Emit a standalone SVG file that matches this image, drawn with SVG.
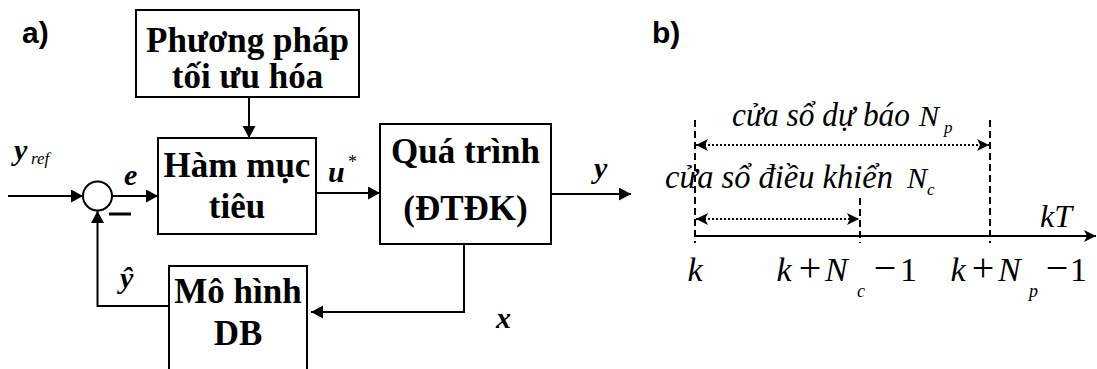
<svg xmlns="http://www.w3.org/2000/svg" width="1097" height="369" viewBox="0 0 1097 369">
<style>
.box{fill:#fff;stroke:#000;stroke-width:2}
.bt{font-weight:bold;font-size:35px;text-anchor:middle;fill:#000}
.lbl{font-family:"Liberation Sans",Arial,sans-serif;font-weight:bold;font-size:30px;fill:#000}
.m{font-style:italic;font-weight:bold;font-size:30px;fill:#000}
.mi{font-style:italic;fill:#000}
.mr{fill:#000}
.c{text-anchor:middle}
.ln{fill:none;stroke:#000;stroke-width:2}
.dash{fill:none;stroke:#000;stroke-width:2;stroke-dasharray:7 4}
.dot{fill:none;stroke:#000;stroke-width:2;stroke-dasharray:2 2}
</style>
<defs>
<marker id="arr" markerUnits="userSpaceOnUse" markerWidth="14" markerHeight="14" refX="12" refY="6.5" orient="auto"><path d="M0,0 L12,6.5 L0,13 z" fill="#000"/></marker>
<marker id="barb" markerUnits="userSpaceOnUse" markerWidth="14" markerHeight="14" refX="12" refY="6" orient="auto-start-reverse"><path d="M0,0 L12,6 L0,12 L3,6 z" fill="#000"/></marker>
</defs>
<rect width="1097" height="369" fill="#fff"/>
<text class="lbl" x="22" y="43">a)</text>
<text class="lbl" x="652" y="43">b)</text>
<g font-family="Liberation Serif, DejaVu Serif, serif">
<g id="phuong-phap"><rect class="box" x="136" y="10" width="223" height="87"/><text class="bt" x="247.5" y="52" font-size="33">Phương pháp</text><text class="bt" x="247.5" y="88" font-size="33">tối ưu hóa</text></g>
<g id="ham-muc-tieu"><rect class="box" x="158" y="138" width="158" height="96"/><text class="bt" x="237" y="177">Hàm mục</text><text class="bt" x="237" y="218">tiêu</text></g>
<g id="qua-trinh"><rect class="box" x="380" y="124" width="171" height="120"/><text class="bt" x="465.5" y="163">Quá trình</text><text class="bt" x="465.5" y="220">(ĐTĐK)</text></g>
<g id="mo-hinh"><rect class="box" x="169" y="266" width="138" height="120"/><text class="bt" x="238" y="303">Mô hình</text><text class="bt" x="238" y="345">DB</text></g>
<g id="sum"><circle cx="97.5" cy="196" r="14.5" fill="#fff" stroke="#000" stroke-width="2"/><line x1="109" y1="214" x2="131" y2="214" stroke="#000" stroke-width="3"/></g>
<g id="connectors">
<line class="ln" x1="249" y1="97" x2="249" y2="138" marker-end="url(#arr)"/>
<line class="ln" x1="8" y1="196" x2="83" y2="196" marker-end="url(#arr)"/>
<line class="ln" x1="112" y1="196" x2="158" y2="196" marker-end="url(#arr)"/>
<line class="ln" x1="316" y1="193" x2="380" y2="193" marker-end="url(#arr)"/>
<line class="ln" x1="551" y1="194" x2="631" y2="194" marker-end="url(#arr)"/>
<polyline class="ln" points="464,244 464,312 311,312" marker-end="url(#arr)"/>
<polyline class="ln" points="169,306 97.5,306 97.5,211" marker-end="url(#arr)"/>
<line class="dash" x1="695" y1="120" x2="695" y2="243"/>
<line class="dash" x1="860" y1="198" x2="860" y2="243"/>
<line class="dash" x1="990" y1="120" x2="990" y2="243"/>
<line class="dot" x1="696" y1="145" x2="989" y2="145" marker-start="url(#barb)" marker-end="url(#barb)"/>
<line class="dot" x1="696" y1="219" x2="859" y2="219" marker-start="url(#barb)" marker-end="url(#barb)"/>
<line class="ln" x1="695" y1="236" x2="1096" y2="236" marker-end="url(#barb)"/>
</g>
<text class="m" x="14" y="160">y</text><text class="mi" x="31" y="164" font-size="17">ref</text>
<text class="m" x="124" y="185">e</text>
<text class="m" x="328" y="182">u</text><text class="mr" x="348" y="168" font-size="18">*</text>
<text class="m" x="594" y="178">y</text>
<text class="m" x="496" y="328">x</text>
<text class="m" x="120" y="288">ŷ</text>
<text class="mi" x="732" y="126" font-size="33" textLength="178" lengthAdjust="spacingAndGlyphs">cửa sổ dự báo</text><text class="mi" x="919" y="126" font-size="30">N</text><text class="mi" x="944" y="133" font-size="17">p</text>
<text class="mi" x="665" y="188" font-size="33" textLength="228" lengthAdjust="spacingAndGlyphs">cửa sổ điều khiển</text><text class="mi" x="907" y="188" font-size="30">N</text><text class="mi" x="927" y="195" font-size="17">c</text>
<text class="mi" x="1040" y="227" font-size="32">kT</text>
<text class="mi c" x="695" y="281" font-size="34">k</text>
<text class="mi c" x="784" y="281" font-size="34">k</text><text class="mr c" x="810" y="281" font-size="40">+</text><text class="mi" x="825" y="281" font-size="34">N</text><text class="mi" x="857" y="297" font-size="18">c</text><text class="mr c" x="885" y="281" font-size="40">−</text><text class="mr c" x="908.5" y="281" font-size="34">1</text>
<text class="mi c" x="958" y="281" font-size="34">k</text><text class="mr c" x="983" y="281" font-size="40">+</text><text class="mi" x="998" y="281" font-size="34">N</text><text class="mi" x="1029" y="297" font-size="18">p</text><text class="mr c" x="1057" y="281" font-size="40">−</text><text class="mr c" x="1078.5" y="281" font-size="34">1</text>
</g>
</svg>
